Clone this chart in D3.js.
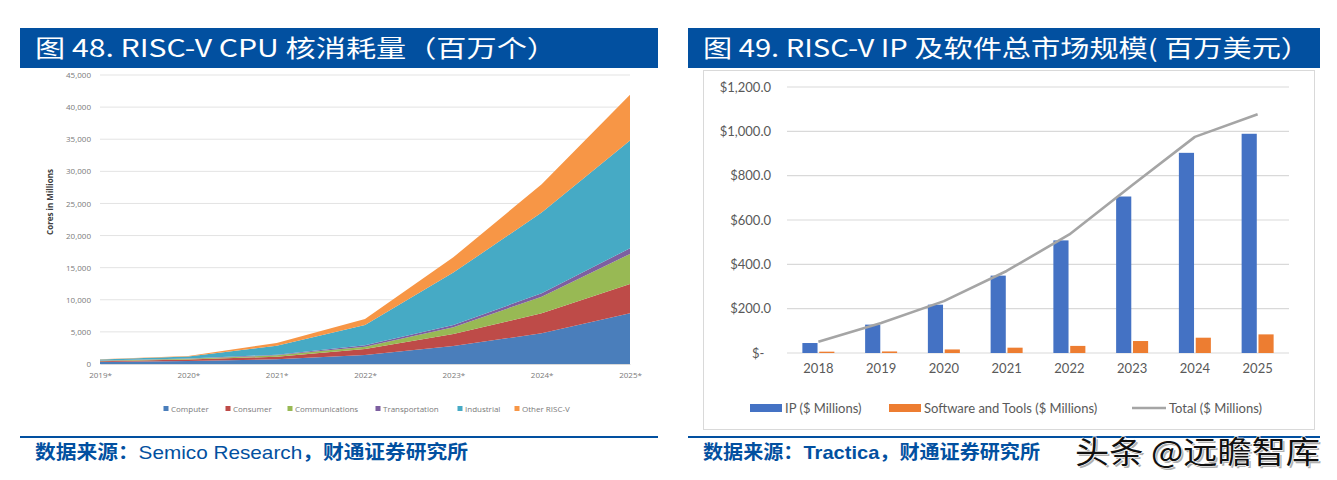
<!DOCTYPE html>
<html lang="zh">
<head>
<meta charset="UTF-8">
<title>RISC-V</title>
<script src="https://d3js.org/d3.v7.min.js"></script>
<style>
    body { margin: 0; background: #fff; }
    svg { display: block; }
    .cjk { font-family: "Noto Sans CJK SC", "Noto Sans", sans-serif; }
    .tick-l { font-family: "Open Sans", "Noto Sans", sans-serif; font-size: 8px; fill: #7a7a7a; }
    .tick-r { font-family: Lato, "Noto Sans", sans-serif; font-size: 13px; fill: #595959; }
</style>
</head>
<body>
<script>
    // 图48 数据
    const coreYears = ["2019*", "2020*", "2021*", "2022*", "2023*", "2024*", "2025*"];
    const computer = [300, 480, 730, 1400, 2800, 4780, 7900];
    const consumer = [130, 230, 410, 940, 1870, 3120, 4560];
    const communications = [70, 110, 210, 360, 1040, 2590, 4680];
    const transportation = [30, 50, 100, 210, 370, 520, 890];
    const industrial = [180, 300, 1400, 3170, 8150, 12570, 16760];
    const otherRiscv = [30, 80, 420, 930, 2390, 4420, 7120];
    const coreKeys = ["Computer", "Consumer", "Communications", "Transportation", "Industrial", "Other RISC-V"];
    const coreColors = ["#4a7ebb", "#be4b48", "#98b954", "#7d5fa0", "#46aac5", "#f79646"];
    const coreTicks = d3.range(0, 45001, 5000);

    // 图49 数据
    const ipYears = ["2018", "2019", "2020", "2021", "2022", "2023", "2024", "2025"];
    const ipValues = [45, 128, 218, 349, 508, 706, 903, 989];
    const softwareValues = [6, 7, 16, 24, 32, 54, 69, 84];
    const totalValues = [51, 135, 234, 370, 535, 757, 975, 1077];
    const marketTicks = [0, 200, 400, 600, 800, 1000, 1200];

    const svg = d3.select("body").append("svg")
        .attr("width", 1337)
        .attr("height", 480);

    svg.append("rect").attr("width", 1337).attr("height", 480).attr("fill", "#fff");

    // 标题栏
    function titleBar(x, w, text, textW) {
        svg.append("rect")
            .attr("x", x).attr("y", 28).attr("width", w).attr("height", 40)
            .attr("fill", "#0250a0");
        svg.append("text")
            .attr("class", "cjk")
            .attr("x", x + 15).attr("y", 57)
            .attr("fill", "#fff")
            .attr("font-size", 24)
            .attr("textLength", textW)
            .attr("lengthAdjust", "spacingAndGlyphs")
            .text(text);
    }
    titleBar(20, 638, "图 48. RISC-V CPU 核消耗量（百万个）", 522);
    titleBar(688, 632, "图 49. RISC-V IP 及软件总市场规模( 百万美元）", 607);

    // 来源
    function source(x, w, parts, textW) {
        svg.append("line")
            .attr("x1", x).attr("x2", x + w).attr("y1", 437).attr("y2", 437)
            .attr("stroke", "#0250a0").attr("stroke-width", 2);
        const t = svg.append("text")
            .attr("class", "cjk")
            .attr("x", x + 15).attr("y", 459)
            .attr("fill", "#0250a0")
            .attr("font-size", 19)
            .attr("textLength", textW)
            .attr("lengthAdjust", "spacingAndGlyphs");
        parts.forEach(p => {
            t.append("tspan")
                .attr("font-weight", p[1] ? "bold" : "normal")
                .attr("font-family", p[2] || null)
                .text(p[0]);
        });
    }
    source(20, 638, [["数据来源：", true], ["Semico Research", false, "Liberation Sans, Arial, sans-serif"], ["，财通证券研究所", true]], 433);
    source(688, 632, [["数据来源：", true], ["Tractica", true, "Liberation Sans, Arial, sans-serif"], ["，财通证券研究所", true]], 337);

    // ---------- 图48 堆叠面积 ----------
    const coreData = coreYears.map((y, i) => ({
        year: y,
        "Computer": computer[i],
        "Consumer": consumer[i],
        "Communications": communications[i],
        "Transportation": transportation[i],
        "Industrial": industrial[i],
        "Other RISC-V": otherRiscv[i]
    }));

    const xL = d3.scalePoint().domain(coreYears).range([100, 630]);
    const yL = d3.scaleLinear().domain([0, 45000]).range([364, 75]);

    svg.append("g").selectAll("line")
        .data(coreTicks)
        .enter().append("line")
        .attr("x1", 100).attr("x2", 630)
        .attr("y1", d => yL(d)).attr("y2", d => yL(d))
        .attr("stroke", "#e3e3e3").attr("stroke-width", 1);

    const stacked = d3.stack().keys(coreKeys)(coreData);
    const area = d3.area()
        .x(d => xL(d.data.year))
        .y0(d => yL(d[0]))
        .y1(d => yL(d[1]));

    svg.append("g").selectAll("path")
        .data(stacked)
        .enter().append("path")
        .attr("d", area)
        .attr("fill", (d, i) => coreColors[i]);

    const yAxisL = svg.append("g")
        .attr("transform", "translate(100,0)")
        .call(d3.axisLeft(yL).tickValues(coreTicks).tickFormat(d3.format(",")).tickSize(0).tickPadding(9));
    yAxisL.select(".domain").remove();
    yAxisL.selectAll("text").attr("class", "tick-l").attr("fill", null);

    const xAxisL = svg.append("g")
        .attr("transform", "translate(0,364)")
        .call(d3.axisBottom(xL).tickSize(0).tickPadding(8));
    xAxisL.select(".domain").attr("stroke", "#d9d9d9");
    xAxisL.selectAll("text").attr("class", "tick-l").attr("fill", null);

    svg.append("text")
        .attr("transform", "translate(53,202) rotate(-90)")
        .attr("text-anchor", "middle")
        .attr("font-family", "Open Sans, Noto Sans, sans-serif")
        .attr("font-size", 8).attr("font-weight", "bold").attr("fill", "#404040")
        .text("Cores in Millions");

    // 图例
    const legendL = [166, 228, 290, 378, 460, 517];
    const lg = svg.append("g").selectAll("g")
        .data(coreKeys)
        .enter().append("g")
        .attr("transform", (d, i) => "translate(" + legendL[i] + ",409)");
    lg.append("rect").attr("x", -2.5).attr("y", -3).attr("width", 5).attr("height", 5)
        .attr("fill", (d, i) => coreColors[i]);
    lg.append("text").attr("class", "tick-l").attr("x", 5).attr("y", 2.5).text(d => d);

    // ---------- 图49 柱状 + 折线 ----------
    svg.append("rect")
        .attr("x", 703.5).attr("y", 70.5).attr("width", 611).attr("height", 359)
        .attr("fill", "none").attr("stroke", "#d9d9d9");

    const x0 = d3.scaleBand().domain(ipYears).range([787, 1289]);
    const yR = d3.scaleLinear().domain([0, 1200]).range([353, 87]);
    const bw = x0.bandwidth();
    const x1 = d3.scaleBand().domain(["ip", "sw"]).range([bw / 2 - 16, bw / 2 + 16]).paddingInner(0.1);

    svg.append("g").selectAll("line")
        .data(marketTicks)
        .enter().append("line")
        .attr("x1", 787).attr("x2", 1289)
        .attr("y1", d => yR(d)).attr("y2", d => yR(d))
        .attr("stroke", "#d9d9d9").attr("stroke-width", 1.2);

    const yAxisR = svg.append("g")
        .attr("transform", "translate(787,0)")
        .call(d3.axisLeft(yR).tickValues(marketTicks)
            .tickFormat(d => d === 0 ? "$-  " : "$" + d3.format(",.1f")(d))
            .tickSize(0).tickPadding(16));
    yAxisR.select(".domain").remove();
    yAxisR.selectAll("text").attr("class", "tick-r").attr("fill", null).style("white-space", "pre");

    const xAxisR = svg.append("g")
        .attr("transform", "translate(0,353)")
        .call(d3.axisBottom(x0).tickSize(0).tickPadding(11));
    xAxisR.select(".domain").remove();
    xAxisR.selectAll("text").attr("class", "tick-r").attr("fill", null);

    svg.append("g").selectAll("rect")
        .data(ipYears)
        .enter().append("rect")
        .attr("x", (d) => x0(d) + x1("ip"))
        .attr("width", x1.bandwidth())
        .attr("y", (d, i) => yR(ipValues[i]))
        .attr("height", (d, i) => yR(0) - yR(ipValues[i]))
        .attr("fill", "#4472c4");

    svg.append("g").selectAll("rect")
        .data(ipYears)
        .enter().append("rect")
        .attr("x", (d) => x0(d) + x1("sw"))
        .attr("width", x1.bandwidth())
        .attr("y", (d, i) => yR(softwareValues[i]))
        .attr("height", (d, i) => yR(0) - yR(softwareValues[i]))
        .attr("fill", "#ed7d31");

    const totalLine = d3.line()
        .x((d, i) => x0(ipYears[i]) + bw / 2)
        .y(d => yR(d));
    svg.append("path")
        .datum(totalValues)
        .attr("d", totalLine)
        .attr("fill", "none")
        .attr("stroke", "#a5a5a5")
        .attr("stroke-width", 2.6)
        .attr("stroke-linejoin", "round");

    // 图例
    const lgR = svg.append("g").attr("transform", "translate(0,408)");
    lgR.append("rect").attr("x", 750).attr("y", -4).attr("width", 32).attr("height", 8).attr("fill", "#4472c4");
    lgR.append("text").attr("class", "tick-r").attr("x", 785).attr("y", 4.5).text("IP  ($ Millions)");
    lgR.append("rect").attr("x", 889).attr("y", -4).attr("width", 32).attr("height", 8).attr("fill", "#ed7d31");
    lgR.append("text").attr("class", "tick-r").attr("x", 924).attr("y", 4.5).text("Software and Tools ($ Millions)");
    lgR.append("line").attr("x1", 1132).attr("x2", 1166).attr("y1", 0).attr("y2", 0)
        .attr("stroke", "#a5a5a5").attr("stroke-width", 2.6);
    lgR.append("text").attr("class", "tick-r").attr("x", 1169).attr("y", 4.5).text("Total ($ Millions)");

    // 水印
    svg.append("text")
        .attr("class", "cjk")
        .attr("x", 1077).attr("y", 465)
        .attr("font-size", 31)
        .attr("textLength", 245).attr("lengthAdjust", "spacingAndGlyphs")
        .attr("fill", "#b0b0b0")
        .text("头条 @远瞻智库");
    svg.append("text")
        .attr("class", "cjk")
        .attr("x", 1075).attr("y", 463)
        .attr("font-size", 31)
        .attr("textLength", 245).attr("lengthAdjust", "spacingAndGlyphs")
        .attr("fill", "#111")
        .attr("stroke", "#fff").attr("stroke-width", 1.2)
        .attr("paint-order", "stroke")
        .text("头条 @远瞻智库");
</script>
</body>
</html>
